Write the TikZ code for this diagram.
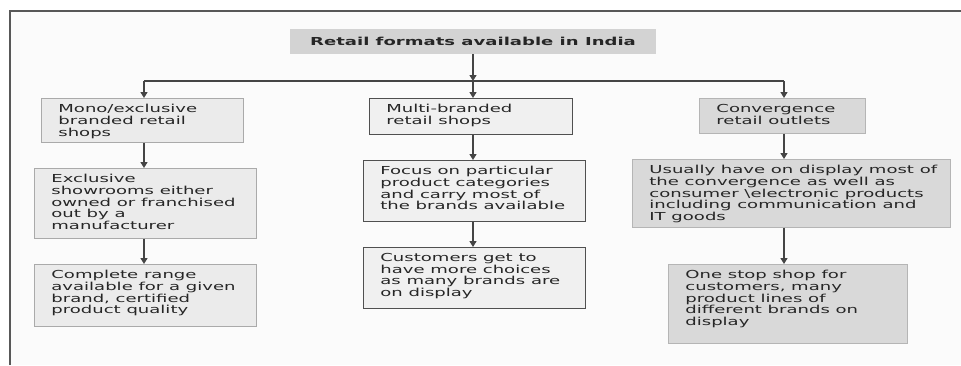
\documentclass[tikz,border=0pt]{standalone}
\usepackage{fontspec}
\usetikzlibrary{arrows.meta}
\newfontfamily\bxfont[FakeStretch=1.64]{DejaVu Sans}
\definecolor{txt}{HTML}{262626}
\definecolor{monofill}{HTML}{EBEBEB}
\definecolor{monodraw}{HTML}{AAAAAA}
\definecolor{multifill}{HTML}{F0F0F0}
\definecolor{multidraw}{HTML}{505050}
\definecolor{convfill}{HTML}{D9D9D9}
\definecolor{convdraw}{HTML}{B5B5B5}
\definecolor{titlefill}{HTML}{D3D3D3}
\definecolor{linec}{HTML}{454545}
\definecolor{bgc}{HTML}{FBFBFB}
\newcommand\bt[3]{\parbox[c][#2pt][t]{#1pt}{\raggedright\leftskip=17pt\vspace*{6pt}#3\par}}
\tikzset{
  bx/.style={rectangle, inner sep=0pt, anchor=north west, line width=0.8pt, text=txt,
    font=\bxfont\fontsize{11}{11.7}\selectfont},
  monobox/.style={bx, draw=monodraw, fill=monofill},
  multibox/.style={bx, draw=multidraw, fill=multifill},
  convbox/.style={bx, draw=convdraw, fill=convfill},
  titlebox/.style={rectangle, fill=titlefill, minimum width=366pt, minimum height=25pt,
    inner sep=0pt, text=txt, font=\bxfont\bfseries\fontsize{11}{11.7}\selectfont},
  ln/.style={draw=linec, line width=1.3pt},
  arr/.style={ln, -{Triangle[length=6pt,width=7pt]}},
  frame/.style={draw=linec!90, line width=1.2pt}
}
\begin{document}
\begin{tikzpicture}[x=1pt,y=-1pt]
\useasboundingbox (0,0) rectangle (961,365);
\fill[white] (0,0) rectangle (961,365);
\fill[bgc] (10,11) rectangle (961,365);
\draw[frame] (10,365) -- (10,11) -- (961,11);

\node[titlebox] (title) at (473,41.5) {Retail formats available in India};

\node[monobox] (m1) at (41,98) {\bt{202}{44}{Mono/exclusive\\branded retail\\shops}};
\node[monobox] (m2) at (34,168) {\bt{222}{70}{Exclusive\\showrooms either\\owned or franchised\\out by a\\manufacturer}};
\node[monobox] (m3) at (34,264) {\bt{222}{62}{Complete range\\available for a given\\brand, certified\\product quality}};

\node[multibox] (b1) at (369,98) {\bt{203}{36}{Multi-branded\\retail shops}};
\node[multibox] (b2) at (363,160) {\bt{222}{61}{Focus on particular\\product categories\\and carry most of\\the brands available}};
\node[multibox] (b3) at (363,247) {\bt{222}{61}{Customers get to\\have more choices\\as many brands are\\on display}};

\node[convbox] (c1) at (699,98) {\bt{166}{35}{Convergence\\retail outlets}};
\node[convbox] (c2) at (632,159) {\bt{318}{68}{Usually have on display most of\\the convergence as well as\\consumer \textbackslash electronic products\\including communication and\\IT goods}};
\node[convbox] (c3) at (668,264) {\bt{239}{79}{One stop shop for\\customers, many\\product lines of\\different brands on\\display}};

\coordinate (J) at (473,81);
\coordinate (JL) at (144,81);
\coordinate (JR) at (784,81);

\draw[arr] (title.south) -- (J);
\draw[ln] (JL) -- (JR);
\draw[arr] (JL) -- (JL |- m1.north);
\draw[arr] (J) -- (J |- b1.north);
\draw[arr] (JR) -- (JR |- c1.north);

\draw[arr] (m1.south -| JL) -- (m2.north -| JL);
\draw[arr] (m2.south -| JL) -- (m3.north -| JL);
\draw[arr] (b1.south -| J) -- (b2.north -| J);
\draw[arr] (b2.south -| J) -- (b3.north -| J);
\draw[arr] (c1.south -| JR) -- (c2.north -| JR);
\draw[arr] (c2.south -| JR) -- (c3.north -| JR);
\end{tikzpicture}
\end{document}
